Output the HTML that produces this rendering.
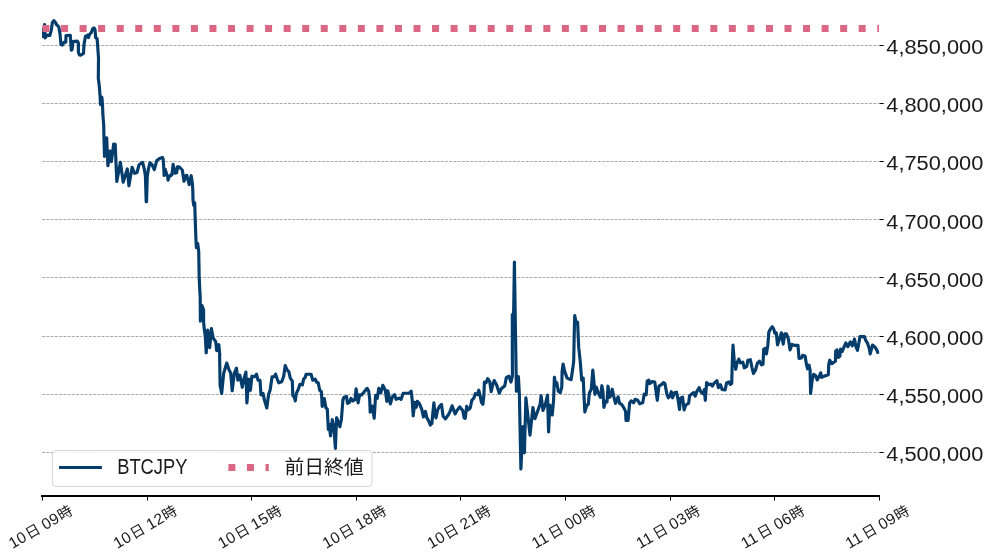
<!DOCTYPE html>
<html lang="ja">
<head>
<meta charset="utf-8">
<title>BTCJPY</title>
<style>
html,body{margin:0;padding:0;background:#fff;}
body{width:991px;height:558px;overflow:hidden;font-family:"Liberation Sans",sans-serif;}
svg{display:block;will-change:transform;}
text{font-family:"Liberation Sans","Noto Sans CJK JP",sans-serif;fill:#1a1a1a;}
.yl{font-size:20.5px;}
.xl{font-size:15.6px;letter-spacing:0.3px;}
.xk{font-size:14.6px;}
.lg{font-size:20px;}
</style>
</head>
<body>
<svg width="991" height="558" viewBox="0 0 991 558">
<defs>
<clipPath id="ax"><rect x="42" y="0" width="837.5" height="495"/></clipPath>
</defs>
<rect width="991" height="558" fill="#fff"/>

<g stroke="#a0a0a0" stroke-width="0.9" stroke-dasharray="2.96 1.28" fill="none">
<line x1="42.2" y1="45.50" x2="879.7" y2="45.50"/>
<line x1="42.2" y1="103.50" x2="879.7" y2="103.50"/>
<line x1="42.2" y1="161.50" x2="879.7" y2="161.50"/>
<line x1="42.2" y1="219.50" x2="879.7" y2="219.50"/>
<line x1="42.2" y1="277.50" x2="879.7" y2="277.50"/>
<line x1="42.2" y1="336.50" x2="879.7" y2="336.50"/>
<line x1="42.2" y1="394.50" x2="879.7" y2="394.50"/>
<line x1="42.2" y1="452.50" x2="879.7" y2="452.50"/>
</g>
<path d="M42.0 30.1 L42.5 36.5 L44.6 24.5 L45.1 37.9 L47.1 35.1 L49.9 35.4 L51.3 30.1 L52.4 22.4 L53.8 20.6 L55.2 22.0 L56.6 24.8 L58.7 26.6 L60.0 33.7 L61.0 44.6 L62.3 45.1 L64.0 42.4 L65.8 42.1 L66.0 35.5 L70.3 35.3 L70.8 42.6 L71.3 50.2 L72.1 49.7 L72.9 41.6 L77.2 41.1 L78.4 43.1 L78.4 52.2 L79.4 55.0 L80.7 55.2 L83.5 53.5 L84.0 44.6 L85.5 36.3 L87.8 35.0 L88.5 37.6 L89.5 34.5 L91.3 32.5 L92.5 29.2 L93.3 28.0 L94.3 28.0 L95.1 30.0 L95.6 37.6 L97.1 38.6 L97.6 45.1 L98.5 58.0 L98.3 79.0 L98.3 78.1 L99.3 86.1 L100.1 96.6 L100.5 104.7 L101.9 97.4 L102.5 104.7 L102.9 115.0 L103.7 125.1 L103.9 135.0 L104.5 156.4 L106.7 137.8 L107.9 165.7 L110.2 151.1 L111.4 161.6 L113.7 144.0 L115.2 144.3 L116.8 181.4 L120.4 162.4 L123.2 182.2 L127.3 168.9 L128.9 185.8 L132.1 167.3 L134.6 173.3 L137.0 172.5 L139.0 164.8 L142.6 162.4 L144.4 169.7 L145.4 176.1 L146.2 201.6 L146.5 201.6 L147.3 176.1 L148.3 169.7 L149.9 162.8 L151.9 164.4 L154.3 169.7 L156.7 160.8 L159.1 158.8 L162.4 157.4 L163.2 159.1 L163.7 167.1 L164.1 175.5 L165.2 169.4 L166.7 174.2 L167.7 176.7 L168.0 180.2 L168.9 177.2 L171.2 174.7 L169.8 176.1 L171.9 174.9 L173.1 164.4 L175.1 173.2 L176.7 172.8 L177.5 166.8 L179.1 166.8 L182.3 170.0 L184.0 181.3 L185.6 175.7 L186.8 175.3 L189.2 184.6 L191.2 175.7 L192.4 183.7 L192.8 190.0 L193.0 200.1 L193.7 205.2 L194.7 202.7 L195.2 219.3 L196.0 241.0 L196.4 247.6 L197.7 243.5 L198.7 251.1 L199.2 277.3 L199.7 288.4 L200.2 297.0 L200.4 321.2 L202.0 305.6 L203.6 310.1 L203.6 322.2 L204.3 329.3 L205.3 336.4 L206.2 352.8 L207.7 330.1 L209.7 347.7 L211.4 328.5 L213.2 338.1 L215.7 341.6 L216.7 350.7 L218.8 344.7 L219.8 355.3 L219.6 355.0 L220.1 385.3 L221.7 393.4 L223.7 373.2 L226.7 363.1 L228.7 369.1 L230.7 373.2 L232.2 390.8 L234.3 373.2 L236.5 368.1 L237.8 380.2 L239.8 375.2 L242.3 387.3 L243.8 379.2 L245.9 372.1 L246.9 402.9 L248.9 379.2 L250.4 390.3 L251.9 376.2 L254.4 376.7 L256.5 374.2 L258.0 380.2 L260.0 380.2 L261.0 394.9 L263.0 393.4 L264.5 400.4 L266.8 408.0 L268.6 394.4 L270.1 390.3 L272.1 376.7 L274.1 376.7 L275.6 374.2 L277.1 378.7 L278.7 382.8 L281.7 381.7 L283.7 376.2 L285.2 365.6 L287.2 370.1 L288.8 371.6 L290.3 378.2 L292.3 381.2 L292.8 395.4 L294.3 397.4 L295.3 400.9 L296.3 393.4 L298.3 389.3 L299.9 384.3 L302.4 384.8 L303.6 379.2 L305.1 377.7 L306.1 374.2 L311.1 374.2 L312.7 380.2 L315.2 379.2 L316.7 382.2 L318.2 382.8 L319.7 390.3 L321.4 391.8 L322.2 406.5 L324.3 398.5 L325.8 407.6 L327.3 409.1 L328.3 429.3 L329.3 424.3 L330.5 435.9 L332.3 419.7 L333.9 427.3 L335.4 448.5 L336.6 417.7 L338.4 422.2 L339.9 426.8 L341.4 419.2 L342.9 400.1 L343.9 397.4 L346.5 396.4 L347.5 403.4 L349.5 402.4 L351.0 398.4 L353.0 400.9 L355.0 399.4 L356.1 388.8 L358.1 402.9 L359.6 394.9 L361.6 394.9 L367.1 388.3 L368.7 391.3 L369.7 399.4 L370.2 412.1 L372.2 406.1 L374.2 418.2 L375.5 397.0 L375.7 395.4 L377.2 398.4 L378.8 388.3 L380.8 392.8 L382.8 385.3 L385.3 390.3 L386.8 401.4 L387.8 390.8 L390.4 403.9 L392.4 396.9 L392.6 396.7 L394.6 394.7 L396.1 399.3 L399.1 398.2 L401.1 399.3 L403.2 393.2 L409.2 393.2 L411.2 391.2 L412.2 400.3 L413.2 415.9 L414.8 402.3 L416.3 407.3 L417.3 401.3 L419.3 403.3 L421.8 409.4 L423.4 416.9 L425.4 411.4 L426.9 417.9 L428.4 420.4 L430.4 425.0 L431.9 423.5 L432.9 412.4 L433.9 402.8 L434.9 412.4 L436.0 417.9 L437.5 410.4 L439.5 406.3 L441.5 404.3 L443.0 415.9 L445.5 418.9 L448.6 414.4 L450.1 411.4 L452.1 405.8 L455.1 413.9 L457.1 410.4 L459.7 406.8 L462.7 410.4 L464.2 417.9 L465.2 418.4 L466.7 406.3 L468.2 409.9 L470.3 407.8 L471.8 400.3 L473.8 398.2 L475.3 393.7 L477.3 394.7 L478.8 390.2 L480.4 397.2 L481.4 402.3 L482.9 404.3 L483.9 395.2 L484.4 382.1 L484.6 383.2 L486.1 382.7 L487.7 378.6 L489.7 381.6 L491.2 391.7 L492.7 384.7 L494.2 380.6 L496.7 385.2 L499.3 393.2 L501.3 388.7 L504.8 385.7 L506.3 377.6 L508.9 376.1 L510.9 382.1 L512.4 376.1 L512.3 314.5 L513.3 335.0 L514.4 262.0 L515.6 340.0 L516.4 391.2 L518.4 376.6 L519.4 395.3 L520.9 469.0 L522.9 426.6 L524.4 452.8 L525.9 397.8 L530.0 435.2 L532.9 407.6 L534.9 418.7 L540.2 404.0 L541.1 395.7 L543.0 410.5 L545.2 405.0 L547.5 395.2 L548.6 432.0 L549.8 405.0 L552.2 415.0 L553.6 400.0 L554.4 377.2 L555.8 385.2 L556.8 382.8 L558.3 391.2 L560.3 392.7 L561.8 387.2 L562.1 371.1 L563.1 364.0 L564.6 371.1 L567.1 378.1 L571.1 379.7 L572.7 369.1 L573.7 361.0 L574.2 335.3 L574.7 315.6 L576.3 323.7 L577.6 322.1 L578.7 347.4 L580.2 361.0 L581.7 380.2 L583.2 378.1 L584.3 401.4 L584.8 412.0 L586.8 405.4 L588.3 404.4 L589.3 393.3 L591.3 389.2 L592.8 370.1 L593.9 381.2 L594.9 394.3 L596.4 387.2 L597.9 392.3 L600.4 397.3 L601.9 385.7 L602.9 391.3 L603.9 407.4 L605.5 401.4 L607.0 401.9 L608.0 386.2 L609.5 397.3 L611.0 395.3 L612.3 389.2 L613.5 395.3 L615.5 403.4 L618.1 396.8 L619.6 403.4 L621.6 404.4 L623.6 407.4 L625.6 411.4 L626.0 420.4 L628.1 420.4 L629.6 403.3 L631.1 400.8 L633.6 402.8 L635.1 399.3 L637.7 400.3 L639.7 403.8 L642.7 402.8 L644.2 394.2 L646.2 394.7 L647.2 381.1 L648.8 380.1 L649.8 383.6 L652.3 381.6 L654.8 382.1 L656.3 393.2 L657.3 400.3 L658.9 386.1 L661.4 384.6 L663.4 382.6 L664.9 383.6 L666.9 394.2 L668.4 397.8 L670.0 395.7 L671.3 391.7 L672.5 397.8 L674.5 392.7 L676.5 392.2 L678.0 399.3 L679.5 409.4 L680.5 398.2 L682.6 397.2 L684.1 409.9 L685.6 405.3 L688.6 403.3 L689.6 395.7 L692.1 393.7 L693.7 392.7 L695.2 396.2 L696.7 391.7 L699.2 387.7 L700.7 391.7 L703.2 393.7 L704.3 389.7 L705.3 400.3 L706.6 382.6 L708.3 384.6 L710.8 384.1 L712.3 386.1 L713.8 383.6 L716.9 380.6 L718.4 387.7 L718.6 385.4 L720.6 384.9 L722.1 389.5 L725.1 390.0 L726.6 382.9 L728.7 381.9 L730.2 384.4 L731.7 383.4 L732.2 365.3 L733.0 345.1 L734.2 360.2 L735.7 369.3 L737.2 362.2 L738.8 359.2 L740.3 362.8 L742.8 362.2 L744.3 367.8 L746.8 366.3 L747.8 360.2 L750.4 359.7 L751.9 367.3 L753.4 373.4 L755.4 370.3 L757.4 363.2 L759.5 361.2 L761.5 364.8 L763.0 364.3 L763.7 349.4 L765.2 348.4 L766.4 353.9 L767.8 345.4 L768.8 332.2 L770.3 329.2 L772.3 326.7 L773.8 329.2 L774.8 333.2 L776.3 332.8 L777.5 344.9 L779.4 339.3 L781.4 332.8 L783.2 344.1 L784.9 333.8 L786.4 333.8 L788.4 338.8 L790.0 349.9 L792.0 344.4 L795.0 345.4 L798.0 345.4 L799.0 358.5 L801.5 358.0 L802.6 355.4 L805.1 356.0 L806.6 365.2 L807.6 368.8 L809.1 365.2 L810.1 370.3 L810.6 393.5 L812.1 380.4 L813.7 374.3 L815.7 375.8 L817.2 379.9 L819.2 376.3 L820.7 372.8 L821.7 377.3 L825.3 375.8 L828.3 374.8 L828.8 363.7 L829.8 360.2 L831.8 363.7 L835.4 361.2 L835.7 351.1 L837.0 349.9 L838.2 357.5 L839.8 356.3 L840.6 349.1 L842.2 351.5 L844.2 346.6 L845.8 343.0 L847.9 346.6 L850.3 341.8 L852.3 345.8 L854.5 339.0 L855.9 346.6 L857.5 350.3 L859.1 341.8 L860.0 336.6 L864.4 336.6 L865.6 340.2 L867.6 343.4 L869.2 348.2 L870.2 353.9 L872.5 345.0 L875.3 347.4 L877.3 351.1 L877.7 352.3" fill="none" stroke="#043c6c" stroke-width="3.15" stroke-linejoin="round" stroke-linecap="square" clip-path="url(#ax)"/>
<line x1="42.5" y1="28.5" x2="879.0" y2="28.5" stroke="#db6784" stroke-width="7" stroke-dasharray="7 11.55"/>
<g stroke="#000" stroke-width="1">
<line x1="879.7" y1="45.50" x2="883.7" y2="45.50"/>
<line x1="879.7" y1="103.50" x2="883.7" y2="103.50"/>
<line x1="879.7" y1="161.50" x2="883.7" y2="161.50"/>
<line x1="879.7" y1="219.50" x2="883.7" y2="219.50"/>
<line x1="879.7" y1="277.50" x2="883.7" y2="277.50"/>
<line x1="879.7" y1="336.50" x2="883.7" y2="336.50"/>
<line x1="879.7" y1="394.50" x2="883.7" y2="394.50"/>
<line x1="879.7" y1="452.50" x2="883.7" y2="452.50"/>
</g>
<text class="yl" x="886.3" y="53.6" textLength="97" lengthAdjust="spacingAndGlyphs">4,850,000</text>
<text class="yl" x="886.3" y="111.6" textLength="97" lengthAdjust="spacingAndGlyphs">4,800,000</text>
<text class="yl" x="886.3" y="169.6" textLength="97" lengthAdjust="spacingAndGlyphs">4,750,000</text>
<text class="yl" x="886.3" y="228.6" textLength="97" lengthAdjust="spacingAndGlyphs">4,700,000</text>
<text class="yl" x="886.3" y="286.6" textLength="97" lengthAdjust="spacingAndGlyphs">4,650,000</text>
<text class="yl" x="886.3" y="344.6" textLength="97" lengthAdjust="spacingAndGlyphs">4,600,000</text>
<text class="yl" x="886.3" y="402.6" textLength="97" lengthAdjust="spacingAndGlyphs">4,550,000</text>
<text class="yl" x="886.3" y="460.6" textLength="97" lengthAdjust="spacingAndGlyphs">4,500,000</text>
<rect x="41" y="495" width="838.9" height="2" fill="#000"/>
<g stroke="#000" stroke-width="1">
<line x1="42.50" y1="496" x2="42.50" y2="500.5"/>
<line x1="147.50" y1="496" x2="147.50" y2="500.5"/>
<line x1="251.50" y1="496" x2="251.50" y2="500.5"/>
<line x1="356.50" y1="496" x2="356.50" y2="500.5"/>
<line x1="460.50" y1="496" x2="460.50" y2="500.5"/>
<line x1="565.50" y1="496" x2="565.50" y2="500.5"/>
<line x1="670.50" y1="496" x2="670.50" y2="500.5"/>
<line x1="774.50" y1="496" x2="774.50" y2="500.5"/>
<line x1="879.50" y1="496" x2="879.50" y2="500.5"/>
</g>
<g aria-label="10日 09時" transform="translate(43.50 531.20) rotate(-30)"><text class="xl" x="-35.70" y="0.00">10</text><text class="xk" x="-16.70" y="0.00">日</text><text class="xl" x="2.15" y="0.00">09</text><text class="xk" x="20.49" y="0.00">時</text></g>
<g aria-label="10日 12時" transform="translate(148.08 531.20) rotate(-30)"><text class="xl" x="-35.70" y="0.00">10</text><text class="xk" x="-16.70" y="0.00">日</text><text class="xl" x="2.15" y="0.00">12</text><text class="xk" x="20.49" y="0.00">時</text></g>
<g aria-label="10日 15時" transform="translate(252.66 531.20) rotate(-30)"><text class="xl" x="-35.70" y="0.00">10</text><text class="xk" x="-16.70" y="0.00">日</text><text class="xl" x="2.15" y="0.00">15</text><text class="xk" x="20.49" y="0.00">時</text></g>
<g aria-label="10日 18時" transform="translate(357.24 531.20) rotate(-30)"><text class="xl" x="-35.70" y="0.00">10</text><text class="xk" x="-16.70" y="0.00">日</text><text class="xl" x="2.15" y="0.00">18</text><text class="xk" x="20.49" y="0.00">時</text></g>
<g aria-label="10日 21時" transform="translate(461.82 531.20) rotate(-30)"><text class="xl" x="-35.70" y="0.00">10</text><text class="xk" x="-16.70" y="0.00">日</text><text class="xl" x="2.15" y="0.00">21</text><text class="xk" x="20.49" y="0.00">時</text></g>
<g aria-label="11日 00時" transform="translate(566.40 531.20) rotate(-30)"><text class="xl" x="-35.70" y="0.00">11</text><text class="xk" x="-16.70" y="0.00">日</text><text class="xl" x="2.15" y="0.00">00</text><text class="xk" x="20.49" y="0.00">時</text></g>
<g aria-label="11日 03時" transform="translate(670.98 531.20) rotate(-30)"><text class="xl" x="-35.70" y="0.00">11</text><text class="xk" x="-16.70" y="0.00">日</text><text class="xl" x="2.15" y="0.00">03</text><text class="xk" x="20.49" y="0.00">時</text></g>
<g aria-label="11日 06時" transform="translate(775.56 531.20) rotate(-30)"><text class="xl" x="-35.70" y="0.00">11</text><text class="xk" x="-16.70" y="0.00">日</text><text class="xl" x="2.15" y="0.00">06</text><text class="xk" x="20.49" y="0.00">時</text></g>
<g aria-label="11日 09時" transform="translate(880.14 531.20) rotate(-30)"><text class="xl" x="-35.70" y="0.00">11</text><text class="xk" x="-16.70" y="0.00">日</text><text class="xl" x="2.15" y="0.00">09</text><text class="xk" x="20.49" y="0.00">時</text></g>
<rect x="52.5" y="450.5" width="319.5" height="36" rx="3.5" ry="3.5" fill="#fff" fill-opacity="0.8" stroke="#ccc" stroke-opacity="0.8" stroke-width="1"/>
<line x1="60.5" y1="467.5" x2="100.4" y2="467.5" stroke="#043c6c" stroke-width="3" stroke-linecap="square"/>
<text class="lg" x="117.2" y="474" style="font-size:21.4px" textLength="70.3" lengthAdjust="spacingAndGlyphs">BTCJPY</text>
<line x1="228.4" y1="467.5" x2="268.8" y2="467.5" stroke="#db6784" stroke-width="7" stroke-dasharray="7 11.55"/>
<text class="lg" x="284.4" y="474.2" style="font-size:19.8px" textLength="79.4" lengthAdjust="spacingAndGlyphs">前日終値</text>
</svg>
</body>
</html>
